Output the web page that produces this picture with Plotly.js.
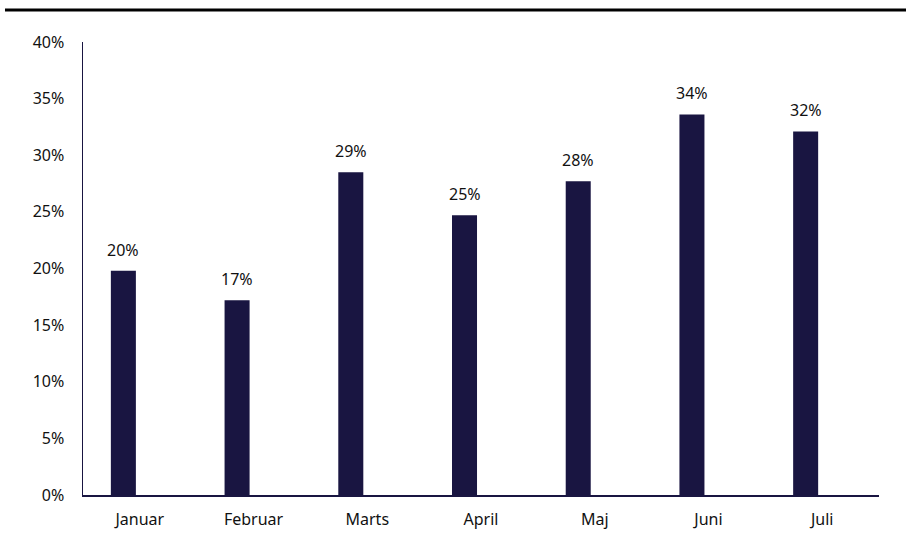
<!DOCTYPE html>
<html>
<head>
<meta charset="utf-8">
<script src="https://cdn.plot.ly/plotly-3.0.1.min.js"></script>
<style>html,body{margin:0;padding:0;background:#fff;}#chart{width:906px;height:542px;}</style>
</head>
<body>
<div id="chart"></div>
<script>
const months = ["Januar", "Februar", "Marts", "April", "Maj", "Juni", "Juli"];
const values = [0.198, 0.172, 0.285, 0.247, 0.277, 0.336, 0.321];
const labels = ["20%", "17%", "29%", "25%", "28%", "34%", "32%"];
const yTicks = [0, 0.05, 0.10, 0.15, 0.20, 0.25, 0.30, 0.35, 0.40];
const yTickText = ["0%", "5%", "10%", "15%", "20%", "25%", "30%", "35%", "40%"];

const navy = "#191541";
const barWidth = 0.22;
const barOffset = -0.255;

const trace = {
  type: "bar",
  x: months,
  y: values,
  marker: {color: navy},
  width: barWidth,
  offset: barOffset,
  hoverinfo: "skip"
};

const annotations = months.map((m, i) => ({
  x: i + barOffset + barWidth / 2,
  y: values[i],
  xref: "x", yref: "y",
  text: labels[i],
  showarrow: false,
  yanchor: "bottom",
  yshift: 8,
  font: {family: "Noto Sans, sans-serif", size: 16, color: "#111"}
}));

const layout = {
  width: 906, height: 542,
  margin: {l: 83, r: 27, t: 42, b: 47},
  paper_bgcolor: "#fff", plot_bgcolor: "#fff",
  font: {family: "Noto Sans, sans-serif", size: 16, color: "#111"},
  showlegend: false,
  xaxis: {
    type: "category",
    showline: true, linecolor: navy, linewidth: 1.5,
    showgrid: false, ticks: "", ticklabelstandoff: 9,
    tickfont: {size: 16, color: "#111"}
  },
  yaxis: {
    range: [0, 0.40],
    tickvals: yTicks, ticktext: yTickText,
    showline: true, linecolor: navy, linewidth: 1.5,
    showgrid: false, zeroline: false, ticks: "",
    ticklabelstandoff: 14,
    tickfont: {size: 16, color: "#111"}
  },
  annotations: annotations,
  shapes: [{
    type: "line", xref: "paper", yref: "paper",
    x0: -0.098, x1: 1.04, y0: 1.0706, y1: 1.0706,
    line: {color: "#000", width: 3}
  }]
};

Plotly.newPlot("chart", [trace], layout, {displayModeBar: false, staticPlot: true});
</script>
</body>
</html>
